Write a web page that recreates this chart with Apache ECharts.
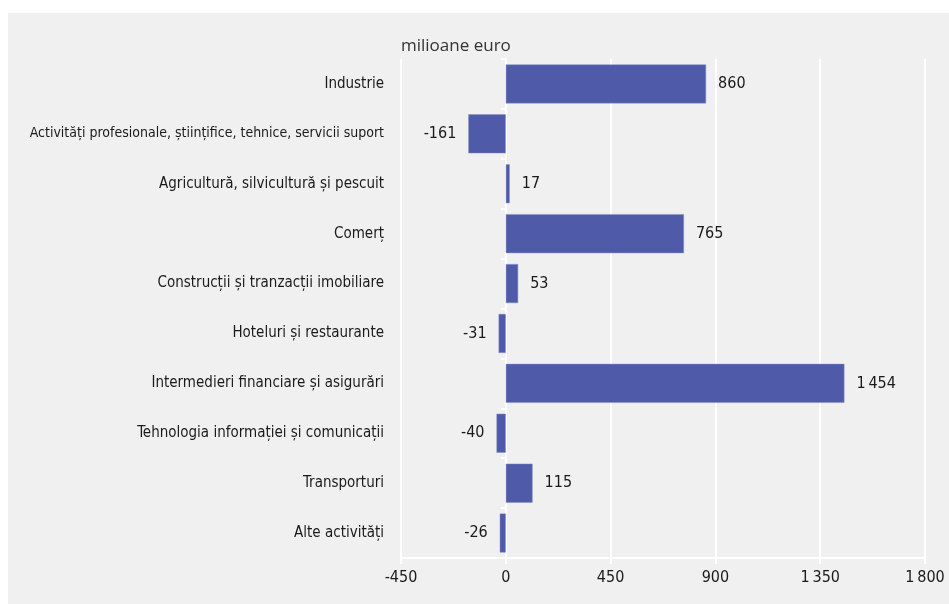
<!DOCTYPE html>
<html>
<head>
<meta charset="utf-8">
<script src="https://cdn.jsdelivr.net/npm/echarts@6/dist/echarts.min.js"></script>
<style>
  html, body { margin: 0; padding: 0; background: #ffffff; }
  #chart { position: absolute; left: 8px; top: 13px; width: 941px; height: 591px; background: #f0f0f0; }
</style>
</head>
<body>
<div id="chart"></div>
<script>
  const categories = [
    'Industrie',
    'Activități profesionale, științifice, tehnice, servicii suport',
    'Agricultură, silvicultură și pescuit',
    'Comerț',
    'Construcții și tranzacții imobiliare',
    'Hoteluri și restaurante',
    'Intermedieri financiare și asigurări',
    'Tehnologia informației și comunicații',
    'Transporturi',
    'Alte activități',
  ]
  const values = [860, -161, 17, 765, 53, -31, 1454, -40, 115, -26]
  const unitLabel = 'milioane euro'
  const xMin = -450
  const xMax = 1800
  const xStep = 450

  const font = '"Liberation Sans Narrow", "DejaVu Sans Condensed", sans-serif'
  // space as thousands separator: 1454 -> "1 454"
  const fmt = (v) => {
    const s = String(Math.abs(v)).replace(/\B(?=(\d{3})+(?!\d))/g, '\u2009')
    return (v < 0 ? '-' : '') + s
  }

  const barData = values.map((v) => ({
    value: v,
    label: { position: v < 0 ? 'left' : 'right' },
  }))

  const chart = echarts.init(document.getElementById('chart'))
  chart.setOption({
    animation: false,
    textStyle: { fontFamily: font },
    title: {
      text: unitLabel,
      left: 388,
      top: 20,
      textStyle: { fontFamily: '"Open Sans", sans-serif', fontSize: 17, fontWeight: 'normal', color: '#333' },
    },
    grid: { left: 393, right: 24, top: 46, bottom: 46, outerBoundsMode: 'none', containLabel: false },
    xAxis: {
      type: 'value',
      min: xMin,
      max: xMax,
      interval: xStep,
      axisLine: { show: true, lineStyle: { color: '#ffffff', width: 2 } },
      axisTick: { show: true, length: 6, lineStyle: { color: '#ffffff', width: 2 } },
      axisLabel: { color: '#1a1a1a', fontSize: 16, margin: 12, formatter: fmt },
      splitLine: { show: true, lineStyle: { color: '#ffffff', width: 2 } },
    },
    yAxis: [
      {
        type: 'category',
        inverse: true,
        data: categories,
        axisLine: { show: false, onZero: false },
        axisTick: { show: false },
        axisLabel: {
          color: '#1a1a1a',
          fontSize: 15,
          margin: 17,
          // the longest label is a bit smaller so it fits inside the frame
          formatter: (v) => (v.length > 45 ? '{s|' + v + '}' : v),
          rich: { s: { fontSize: 14, color: '#1a1a1a' } },
        },
      },
      {
        type: 'category',
        inverse: true,
        data: categories,
        position: 'left',
        axisLine: { show: true, onZero: true, lineStyle: { color: '#ffffff', width: 2 } },
        axisTick: { show: true, length: 5, lineStyle: { color: '#ffffff', width: 2 } },
        axisLabel: { show: false },
      },
    ],
    series: [
      {
        type: 'bar',
        data: barData,
        barWidth: 39,
        itemStyle: { color: '#4f5ba8', borderColor: '#8a93c8', borderWidth: 0.5 },
        label: {
          show: true,
          distance: 12,
          color: '#1a1a1a',
          fontSize: 16,
          formatter: (p) => fmt(p.value),
        },
      },
    ],
  })
</script>
</body>
</html>
